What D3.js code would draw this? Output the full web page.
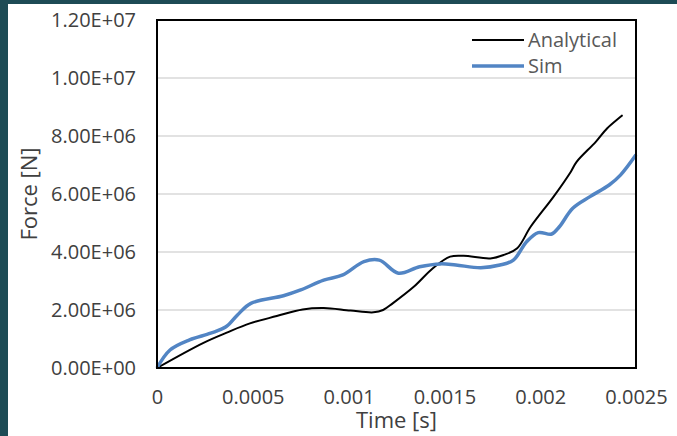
<!DOCTYPE html>
<html>
<head>
<meta charset="utf-8">
<script src="https://cdn.jsdelivr.net/npm/d3@7"></script>
<style>
    body { margin: 0; padding: 0; background: #1d4b55; }
    svg { display: block; }
    text { font-family: "Open Sans", sans-serif; }
</style>
</head>
<body>
<svg id="chart"></svg>
<script>
// series
const seriesNames = ['Analytical', 'Sim'];
const timeAnalytical = [0, 0.00024, 0.000364, 0.000485, 0.000625, 0.00076, 0.00087, 0.00101, 0.00113, 0.00118,
    0.00123, 0.00134, 0.00144, 0.00153, 0.0016, 0.00174, 0.00181, 0.00188, 0.00195, 0.00207,
    0.00216, 0.00219, 0.00229, 0.00235, 0.00243];
const forceAnalytical = [0, 0.86e6, 1.22e6, 1.54e6, 1.79e6, 2.02e6, 2.07e6, 1.98e6, 1.92e6, 2.0e6,
    2.23e6, 2.80e6, 3.44e6, 3.84e6, 3.87e6, 3.78e6, 3.90e6, 4.13e6, 4.87e6, 5.91e6,
    6.77e6, 7.11e6, 7.80e6, 8.27e6, 8.72e6];
const timeSim = [0, 0.000068, 0.00017, 0.00028, 0.00036, 0.00042, 0.00049, 0.00066, 0.00075, 0.00087,
    0.00097, 0.00108, 0.00116, 0.00126, 0.00137, 0.00148, 0.00156, 0.00169, 0.00179, 0.00186,
    0.00193, 0.00199, 0.00206, 0.0021, 0.00217, 0.00226, 0.00236, 0.00242, 0.0025];
const forceSim = [0, 0.62e6, 0.97e6, 1.2e6, 1.42e6, 1.83e6, 2.23e6, 2.49e6, 2.69e6, 3.03e6,
    3.21e6, 3.67e6, 3.72e6, 3.27e6, 3.49e6, 3.59e6, 3.55e6, 3.46e6, 3.55e6, 3.72e6,
    4.36e6, 4.67e6, 4.62e6, 4.87e6, 5.51e6, 5.91e6, 6.31e6, 6.66e6, 7.35e6];
const xTicks = [0, 0.0005, 0.001, 0.0015, 0.002, 0.0025];
const yTicks = [0, 2e6, 4e6, 6e6, 8e6, 10e6, 12e6];

const width = 677, height = 436;
const margin = {top: 20, right: 41, bottom: 68, left: 157};
const innerW = width - margin.left - margin.right;
const innerH = height - margin.top - margin.bottom;

const svg = d3.select('#chart')
    .attr('width', width)
    .attr('height', height);

svg.append('rect')
    .attr('width', width).attr('height', height)
    .attr('fill', '#1d4b55');
svg.append('rect')
    .attr('x', 8).attr('y', 4)
    .attr('width', width - 8).attr('height', height - 4)
    .attr('fill', 'white');

const chart = svg.append('g')
    .attr('transform', `translate(${margin.left},${margin.top})`);

const x = d3.scaleLinear().domain([0, 0.0025]).range([0, innerW]);
const y = d3.scaleLinear().domain([0, 1.2e7]).range([innerH, 0]);

// excel style scientific labels, 1.20E+07
const sci = d => {
    if (d === 0) return '0.00E+00';
    const s = d3.format('.2e')(d).toUpperCase();
    const [m, e] = s.split('E');
    const sign = e[0];
    const digits = e.slice(1).padStart(2, '0');
    return `${m}E${sign}${digits}`;
};

// gridlines
chart.selectAll('.grid')
    .data(yTicks.filter(d => d > 0))
    .enter()
    .append('line')
    .attr('x1', 0).attr('x2', innerW)
    .attr('y1', d => y(d)).attr('y2', d => y(d))
    .attr('stroke', '#d9d9d9')
    .attr('stroke-width', 1.5);

const yAxis = chart.append('g')
    .call(d3.axisLeft(y).tickValues(yTicks).tickSize(0).tickPadding(21).tickFormat(sci));
const xAxis = chart.append('g')
    .attr('transform', `translate(0,${innerH})`)
    .call(d3.axisBottom(x).tickValues(xTicks).tickSize(0).tickPadding(22).tickFormat(d3.format('~g')));

[yAxis, xAxis].forEach(a => {
    a.select('.domain').remove();
    a.selectAll('text')
        .attr('fill', '#404040')
        .style('font-size', '20px')
        .style('font-family', '"Open Sans", sans-serif');
});

const line = d3.line()
    .x(d => x(d[0]))
    .y(d => y(d[1]))
    .curve(d3.curveCatmullRom.alpha(0.5));

chart.append('path')
    .datum(timeAnalytical.map((t, i) => [t, forceAnalytical[i]]))
    .attr('d', line)
    .attr('fill', 'none')
    .attr('stroke', 'black')
    .attr('stroke-width', 2);

chart.append('path')
    .datum(timeSim.map((t, i) => [t, forceSim[i]]))
    .attr('d', line)
    .attr('fill', 'none')
    .attr('stroke', '#5285c4')
    .attr('stroke-width', 3.5);

// plot border
chart.append('rect')
    .attr('width', innerW).attr('height', innerH)
    .attr('fill', 'none')
    .attr('stroke', 'black')
    .attr('stroke-width', 2);

// legend
const legend = chart.append('g')
    .attr('transform', `translate(${472 - margin.left},${40 - margin.top})`);
const lcolors = ['black', '#5285c4'];
const lwidths = [2, 3.5];
seriesNames.forEach((name, i) => {
    legend.append('line')
        .attr('x1', 0).attr('x2', 52)
        .attr('y1', i * 26).attr('y2', i * 26)
        .attr('stroke', lcolors[i])
        .attr('stroke-width', lwidths[i]);
    legend.append('text')
        .attr('x', 56).attr('y', i * 26)
        .attr('dy', '0.35em')
        .attr('fill', '#595959')
        .style('font-size', '20px')
        .text(name);
});

// axis titles
svg.append('text')
    .attr('x', margin.left + innerW / 2)
    .attr('y', 428)
    .attr('text-anchor', 'middle')
    .attr('fill', '#404040')
    .style('font-size', '22px')
    .text('Time [s]');

svg.append('text')
    .attr('transform', `translate(37,${margin.top + innerH / 2}) rotate(-90)`)
    .attr('text-anchor', 'middle')
    .attr('fill', '#404040')
    .style('font-size', '22px')
    .text('Force [N]');
</script>
</body>
</html>
